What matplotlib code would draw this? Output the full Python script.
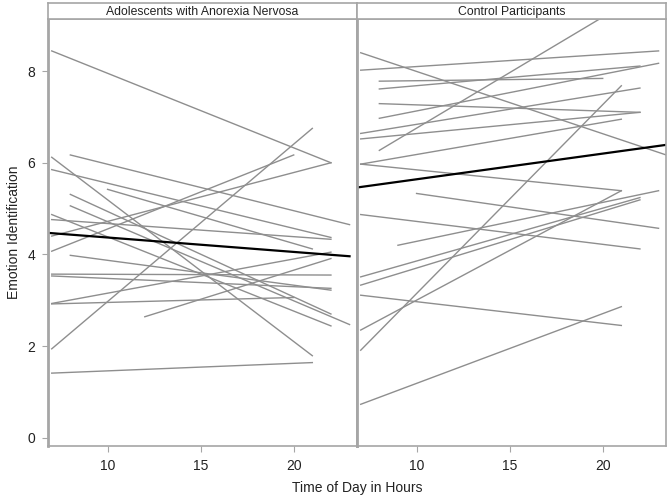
import numpy as np
import matplotlib
matplotlib.use('Agg')
import matplotlib.pyplot as plt

# panel titles
panels = ['Adolescents with Anorexia Nervosa', 'Control Participants']

# individual participant lines: start hour, start value, end hour, end value
an_x0 = [7, 7, 8, 7, 10, 8, 8, 7, 7, 7, 7, 8, 7, 7, 7, 7, 12, 7, 7]
an_y0 = [8.44, 6.12, 6.17, 5.85, 5.42, 5.31, 5.06, 4.87, 4.76, 4.07, 4.40, 3.98, 3.57, 3.53, 2.93, 2.92, 2.64, 1.94, 1.41]
an_x1 = [22, 21, 23, 22, 21, 22, 23, 22, 22, 20, 22, 22, 22, 22, 22, 20, 22, 21, 21]
an_y1 = [6.00, 1.79, 4.65, 4.37, 4.12, 2.70, 2.47, 2.44, 4.33, 6.17, 6.00, 3.22, 3.55, 3.26, 4.05, 3.06, 3.91, 6.75, 1.64]

hc_x0 = [7, 7, 8, 8, 8, 8, 7, 7, 8, 7, 7, 10, 7, 9, 7, 7, 7, 7, 7, 7]
hc_y0 = [8.40, 8.02, 7.78, 7.61, 7.29, 6.97, 6.64, 6.52, 6.27, 5.97, 5.97, 5.33, 4.87, 4.20, 3.51, 3.33, 3.11, 2.35, 1.91, 0.73]
hc_x1 = [24, 23, 20, 22, 22, 23, 22, 22, 21, 21, 21, 23, 22, 23, 22, 22, 21, 21, 21, 21]
hc_y1 = [6.09, 8.44, 7.84, 8.11, 7.10, 8.17, 7.63, 7.10, 9.42, 6.95, 5.39, 4.57, 4.12, 5.39, 5.24, 5.19, 2.45, 5.39, 7.68, 2.86]

# group mean lines
mean_x = [[6.8, 23.0], [6.8, 23.4]]
mean_y = [[4.47, 3.96], [5.46, 6.39]]

xticks = [10, 15, 20]
yticks = [0, 2, 4, 6, 8]

line_col = '#8e8e8e'
frame_col = '#a6a6a6'
text_col = '#222222'

plt.rcParams['font.family'] = ['Liberation Sans', 'DejaVu Sans']

fig = plt.figure(figsize=(6.68, 4.99), dpi=100)

ax_left = 48 / 668
ax_w = 309 / 668
ax_bot = 1 - 446 / 499
ax_h = (446 - 19.3) / 499
strip_h = 16 / 499

data = [(an_x0, an_y0, an_x1, an_y1), (hc_x0, hc_y0, hc_x1, hc_y1)]

for k in range(2):
    ax = fig.add_axes([ax_left + k * ax_w, ax_bot, ax_w, ax_h])
    x0, y0, x1, y1 = data[k]
    for i in range(len(x0)):
        ax.plot([x0[i], x1[i]], [y0[i], y1[i]], color=line_col, lw=1.0)
    ax.plot(mean_x[k], mean_y[k], color='black', lw=1.6)
    ax.set_xlim(6.8, 23.4)
    ax.set_ylim(-0.18, 9.13)
    ax.set_xticks(xticks)
    ax.set_yticks(yticks)
    for s in ax.spines.values():
        s.set_color(frame_col)
        s.set_linewidth(1.2)
    ax.tick_params(labelcolor=text_col, labelsize=10, length=4, width=0.8,
                   color=frame_col, pad=5)
    if k == 0:
        ax.spines['left'].set_linewidth(2.0)
        ax.spines['right'].set_linewidth(2.0)
        ax.set_ylabel('Emotion Identification', fontsize=10, labelpad=5, color=text_col)
    else:
        ax.spines['left'].set_linewidth(2.0)
        ax.tick_params(axis='y', left=False, labelleft=False)

    # header strip
    st = fig.add_axes([ax_left + k * ax_w, ax_bot + ax_h, ax_w, strip_h])
    st.set_xticks([])
    st.set_yticks([])
    for s in st.spines.values():
        s.set_color(frame_col)
        s.set_linewidth(1.2)
    st.text(0.5, 0.45, panels[k], ha='center', va='center', fontsize=8.8,
            color=text_col, transform=st.transAxes)

fig.text(357 / 668, 1 - 488 / 499, 'Time of Day in Hours', ha='center', va='center',
         fontsize=10, color=text_col)

fig.savefig('out.png', dpi=100)
